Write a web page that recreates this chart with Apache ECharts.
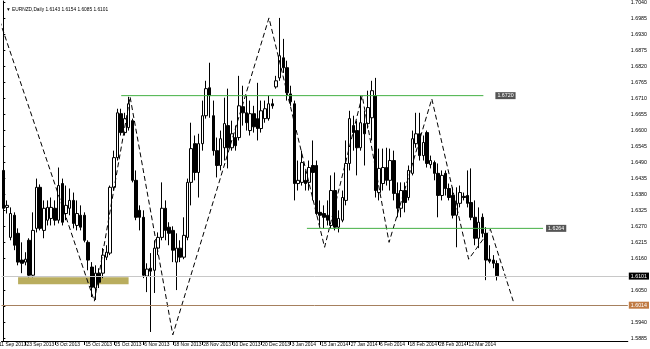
<!DOCTYPE html>
<html><head><meta charset="utf-8">
<script src="https://cdn.jsdelivr.net/npm/echarts@6/dist/echarts.min.js"></script>
<style>html,body{margin:0;padding:0;background:#fff}#c{width:650px;height:349px}</style>
</head><body><div id="c"></div>
<script>
// ---- data (EURNZD daily) ----
const openP = [
1.6463,1.6336,1.6233,1.6309,1.6247,1.6155,1.6148,1.6223,1.6103,1.6264,
1.6405,1.6257,1.6292,1.6298,1.6333,1.6292,1.6418,1.6315,1.6333,1.6360,
1.6274,1.6309,1.6309,1.6216,1.6131,1.6059,1.6110,1.6110,1.6165,1.6179,
1.6405,1.6507,1.6658,1.6593,1.6610,1.6634,1.6429,1.6326,1.6302,1.6100,
1.6127,1.6120,1.6196,1.6233,1.6333,1.6268,1.6257,1.6148,1.6196,1.6165,
1.6233,1.6422,1.6555,1.6456,1.6555,1.6651,1.6747,1.6651,1.6531,1.6480,
1.6541,1.6617,1.6541,1.6576,1.6576,1.6682,1.6661,1.6600,1.6658,1.6641,
1.6607,1.6641,1.6641,1.6692,1.6750,1.6781,1.6850,1.6816,1.6726,1.6692,
1.6418,1.6422,1.6429,1.6422,1.6480,1.6480,1.6319,1.6315,1.6309,1.6274,
1.6394,1.6268,1.6292,1.6360,1.6487,1.6617,1.6600,1.6541,1.6624,1.6624,
1.6644,1.6720,1.6387,1.6418,1.6473,1.6429,1.6497,1.6384,1.6333,1.6394,
1.6370,1.6453,1.6555,1.6589,1.6514,1.6593,1.6483,1.6490,1.6453,1.6377,
1.6453,1.6401,1.6377,1.6309,1.6350,1.6374,1.6377,1.6353,1.6302,1.6230,
1.6302,1.6247,1.6158,1.6155,1.6143];
const closeP = [
1.6333,1.6343,1.6315,1.6206,1.6148,1.6144,1.6158,1.6103,1.6257,1.6405,
1.6264,1.6333,1.6336,1.6336,1.6292,1.6411,1.6285,1.6343,1.6360,1.6281,
1.6315,1.6268,1.6223,1.6155,1.6062,1.6110,1.6079,1.6172,1.6182,1.6405,
1.6507,1.6661,1.6593,1.6641,1.6692,1.6429,1.6302,1.6302,1.6103,1.6124,
1.6117,1.6196,1.6233,1.6333,1.6257,1.6247,1.6189,1.6196,1.6165,1.6240,
1.6422,1.6538,1.6456,1.6555,1.6651,1.6744,1.6720,1.6531,1.6480,1.6572,
1.6624,1.6541,1.6589,1.6548,1.6685,1.6661,1.6627,1.6658,1.6613,1.6607,
1.6668,1.6675,1.6692,1.6685,1.6771,1.6857,1.6816,1.6730,1.6699,1.6418,
1.6429,1.6490,1.6418,1.6473,1.6456,1.6315,1.6309,1.6302,1.6292,1.6394,
1.6268,1.6298,1.6370,1.6487,1.6641,1.6593,1.6541,1.6627,1.6589,1.6679,
1.6737,1.6394,1.6470,1.6473,1.6429,1.6497,1.6384,1.6333,1.6394,1.6353,
1.6463,1.6572,1.6589,1.6514,1.6559,1.6487,1.6497,1.6453,1.6377,1.6446,
1.6401,1.6370,1.6309,1.6350,1.6387,1.6370,1.6350,1.6302,1.6230,1.6285,
1.6247,1.6155,1.6151,1.6144,1.6101];
const highP = [
1.6470,1.6360,1.6336,1.6319,1.6264,1.6216,1.6182,1.6230,1.6319,1.6435,
1.6415,1.6360,1.6360,1.6370,1.6360,1.6473,1.6435,1.6411,1.6401,1.6387,
1.6360,1.6343,1.6319,1.6223,1.6148,1.6137,1.6127,1.6196,1.6206,1.6411,
1.6531,1.6675,1.6675,1.6661,1.6716,1.6641,1.6463,1.6343,1.6326,1.6144,
1.6179,1.6223,1.6250,1.6422,1.6360,1.6285,1.6271,1.6247,1.6223,1.6302,
1.6435,1.6627,1.6583,1.6589,1.6703,1.6771,1.6833,1.6703,1.6576,1.6600,
1.6713,1.6744,1.6634,1.6617,1.6788,1.6754,1.6720,1.6703,1.6685,1.6764,
1.6703,1.6703,1.6720,1.6709,1.6788,1.6987,1.6915,1.6840,1.6754,1.6703,
1.6497,1.6531,1.6463,1.6497,1.6566,1.6497,1.6360,1.6343,1.6360,1.6446,
1.6456,1.6326,1.6394,1.6566,1.6668,1.6651,1.6634,1.6720,1.6668,1.6737,
1.6771,1.6781,1.6538,1.6538,1.6541,1.6538,1.6531,1.6422,1.6422,1.6422,
1.6480,1.6600,1.6661,1.6661,1.6583,1.6600,1.6514,1.6497,1.6487,1.6463,
1.6463,1.6418,1.6405,1.6405,1.6411,1.6387,1.6463,1.6470,1.6360,1.6336,
1.6315,1.6268,1.6206,1.6172,1.6154];
const lowP = [
1.6319,1.6315,1.6223,1.6189,1.6137,1.6110,1.6137,1.6096,1.6096,1.6250,
1.6257,1.6230,1.6274,1.6274,1.6274,1.6281,1.6274,1.6292,1.6309,1.6264,
1.6257,1.6257,1.6216,1.6120,1.6028,1.6018,1.6059,1.6093,1.6155,1.6172,
1.6394,1.6497,1.6583,1.6583,1.6600,1.6422,1.6292,1.6257,1.6093,1.6045,
1.5908,1.6042,1.6172,1.6223,1.6223,1.6206,1.6148,1.6052,1.6148,1.6158,
1.6223,1.6343,1.6429,1.6370,1.6531,1.6641,1.6644,1.6514,1.6439,1.6463,
1.6497,1.6470,1.6531,1.6531,1.6566,1.6617,1.6600,1.6583,1.6593,1.6566,
1.6593,1.6627,1.6634,1.6675,1.6744,1.6771,1.6798,1.6703,1.6685,1.6360,
1.6394,1.6411,1.6394,1.6394,1.6360,1.6309,1.6274,1.6264,1.6274,1.6264,
1.6257,1.6250,1.6285,1.6343,1.6463,1.6531,1.6446,1.6531,1.6480,1.6607,
1.6566,1.6370,1.6360,1.6394,1.6411,1.6394,1.6360,1.6302,1.6302,1.6319,
1.6360,1.6446,1.6541,1.6497,1.6497,1.6473,1.6470,1.6429,1.6302,1.6360,
1.6377,1.6360,1.6298,1.6199,1.6336,1.6360,1.6336,1.6292,1.6206,1.6196,
1.6233,1.6086,1.6144,1.6127,1.6085];

const firstDateLabel = '11 Sep 2013';
const dateLabelIdx = [6, 14, 22, 30, 38, 46, 54, 62, 70, 78, 86, 94, 102, 110, 118, 126];
const dateLabels = ['23 Sep 2013','3 Oct 2013','15 Oct 2013','25 Oct 2013','6 Nov 2013','18 Nov 2013','28 Nov 2013','10 Dec 2013','20 Dec 2013','3 Jan 2014','15 Jan 2014','27 Jan 2014','6 Feb 2014','18 Feb 2014','28 Feb 2014','12 Mar 2014'];
const priceTicks = [1.7040,1.6985,1.6930,1.6875,1.6820,1.6765,1.6710,1.6655,1.6600,1.6545,1.6490,1.6435,1.6380,1.6325,1.6270,1.6215,1.6160,1.6050,1.5995,1.5940,1.5885];

// zigzag (hand-drawn wave) vertices: bar index, price
const zigIdx   = [-1.0, 24.7, 34.4, 46.0, 72.1, 87.2, 97.4, 104.7, 116.3, 126.3, 132.2, 138.4];
const zigPrice = [1.6978,1.6014,1.6716,1.5898,1.6987,1.6199,1.6720,1.6216,1.6709,1.6158,1.6261,1.6014];

// horizontal levels
const resistance = {from: 32, to: 130.3, price: 1.6720, label: '1.6720'};
const support    = {from: 82.4, to: 146.5, price: 1.6264, label: '1.6264'};
const zoneBox    = {from: 4, to: 34, top: 1.6096, bottom: 1.6072};
const bidPrice = 1.6101;
const brownLevel = 1.6014;
const header = '\u25BC EURNZD,Daily 1.6143 1.6154 1.6085 1.6101';

// ---- build ----
const SLOTS = 170;
const cats = new Array(SLOTS).fill('');
dateLabelIdx.forEach((ix, k) => { cats[ix] = dateLabels[k]; });
const candles = openP.map((o, i) => [o, closeP[i], lowP[i], highP[i]]);
const zig = zigIdx.map((x, i) => [x, zigPrice[i]]);
const FONT = 'Liberation Sans';
const FS = 5.3;

const chart = echarts.init(document.getElementById('c'), null, {renderer: 'canvas'});
chart.setOption({
  animation: false,
  backgroundColor: '#fff',
  title: [
    {text: header, left: 1, top: 2, textStyle: {fontSize: 4.8, fontWeight: 'normal', color: '#000', fontFamily: FONT}},
    {text: firstDateLabel, left: -1, top: 342, padding: 0, textStyle: {fontSize: 4.9, fontWeight: 'normal', color: '#000', fontFamily: FONT}}
  ],
  grid: {left: 1.5, right: 17.5, top: 0, bottom: 8},
  xAxis: [{
    type: 'category', data: cats, boundaryGap: true,
    axisLine: {show: true, lineStyle: {color: '#000', width: 1}},
    axisTick: {show: true, alignWithLabel: true, length: 4, interval: (i, v) => v !== '', lineStyle: {color: '#000'}},
    axisLabel: {interval: (i, v) => v !== '', align: 'left', margin: 1.5, fontSize: 4.9, color: '#000', fontFamily: FONT,
      padding: [0, 0, 0, 1], hideOverlap: false},
    splitLine: {show: false}
  }, {
    type: 'value', min: -0.5, max: SLOTS - 0.5, show: false
  }],
  yAxis: {
    type: 'value', position: 'right', min: 1.5877, max: 1.7045, scale: true,
    axisLine: {show: true, lineStyle: {color: '#000', width: 1}},
    axisTick: {show: true, length: 2, customValues: priceTicks, lineStyle: {color: '#000'}},
    axisLabel: {customValues: priceTicks, fontSize: FS, color: '#000', margin: 3, fontFamily: FONT, hideOverlap: false, formatter: v => v.toFixed(4)},
    splitLine: {show: false}
  },
  series: [{
    type: 'candlestick', data: candles, barWidth: 3,
    itemStyle: {color: '#fff', color0: '#000', borderColor: '#000', borderColor0: '#000', borderWidth: 1},
    markLine: {
      symbol: 'none', silent: true, animation: false,
      data: [
        {yAxis: bidPrice, lineStyle: {color: '#c8c8c8', type: 'solid', width: 1},
         label: {show: true, position: 'end', formatter: bidPrice.toFixed(4), backgroundColor: '#000', color: '#fff', fontSize: FS, padding: [1, 2], distance: 1, fontFamily: FONT}},
        {yAxis: brownLevel, lineStyle: {color: '#a6805e', type: 'solid', width: 1},
         label: {show: true, position: 'end', formatter: brownLevel.toFixed(4), backgroundColor: '#c07a42', color: '#fff', fontSize: FS, padding: [1, 2], distance: 1, fontFamily: FONT}}
      ]
    }
  }, {
    type: 'line', xAxisIndex: 1, data: zig, symbol: 'none', clip: true,
    lineStyle: {color: '#000', width: 1, type: [5, 3]}, z: 3
  }, {
    type: 'line', xAxisIndex: 1, symbol: 'none',
    data: [[resistance.from, resistance.price], [resistance.to, resistance.price]],
    lineStyle: {color: '#44b044', width: 1},
    endLabel: {show: true, formatter: resistance.label, backgroundColor: '#555', color: '#fff', fontSize: FS, padding: [1, 2], distance: 12, fontFamily: FONT}
  }, {
    type: 'line', xAxisIndex: 1, symbol: 'none',
    data: [[support.from, support.price], [support.to, support.price]],
    lineStyle: {color: '#44b044', width: 1},
    endLabel: {show: true, formatter: support.label, backgroundColor: '#555', color: '#fff', fontSize: FS, padding: [1, 2], distance: 3, fontFamily: FONT}
  }, {
    type: 'line', xAxisIndex: 1, data: [], symbol: 'none',
    markArea: {silent: true, itemStyle: {color: '#b9ad5e', opacity: 1},
      data: [[{coord: [zoneBox.from, zoneBox.top]}, {coord: [zoneBox.to, zoneBox.bottom]}]]}
  }]
});
</script></body></html>
